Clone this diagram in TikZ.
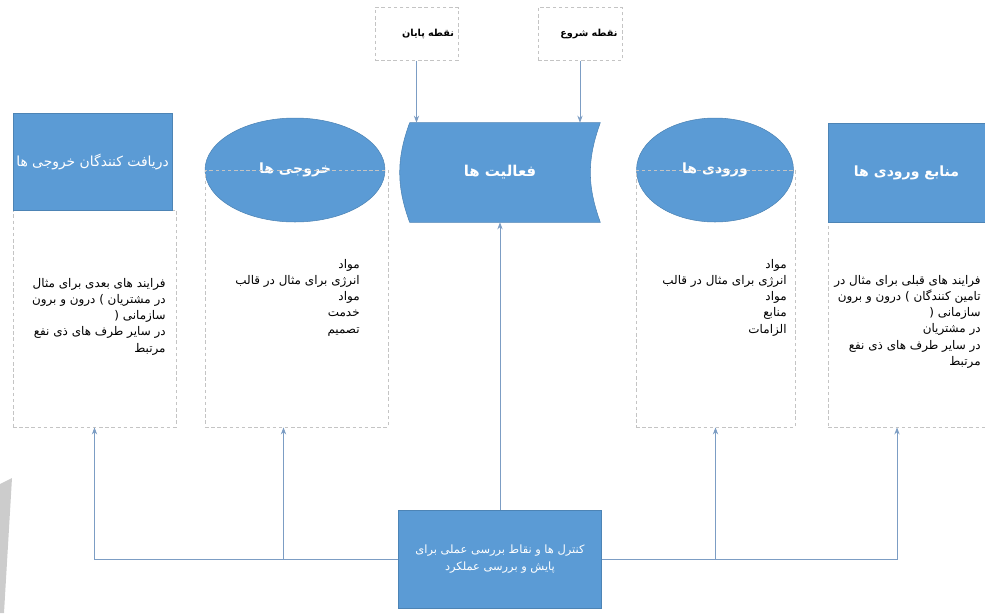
\documentclass[tikz,border=0pt]{standalone}
\usepackage{fontspec}
\usepackage{tikz}
\usetikzlibrary{shapes.geometric, arrows.meta}
\newfontfamily\farsi[Script=Arabic]{DejaVu Sans}
\TeXXeTstate=1
\newcommand{\rl}[1]{\beginR #1\endR}
\definecolor{boxblue}{HTML}{5B9BD5}
\definecolor{linkblue}{HTML}{7C9DC4}
\definecolor{dashgray}{HTML}{C4C4C4}
\tikzset{
  bluebox/.style={fill=boxblue, draw=boxblue!85!black, line width=0.3pt,
    text=white, font=\farsi\bfseries\fontsize{8}{10}\selectfont, inner sep=0pt},
  panel/.style={draw=dashgray, dash pattern=on 2pt off 1.5pt, line width=0.5pt,
    inner sep=0pt},
  bodytext/.style={font=\farsi\fontsize{6.8}{9.2}\selectfont, align=right,
    anchor=north east, inner sep=0pt},
  link/.style={draw=linkblue, line width=0.5pt, -{Stealth[length=4pt, width=3pt]}}
}

\begin{document}
\begin{tikzpicture}[x=0.02cm, y=-0.02cm]
    \useasboundingbox (0, 0) rectangle (985, 613);

    % page shadow
    \fill [gray!40] (0, 484) -- (12, 478) -- (4, 613) -- (0, 613) -- cycle;

    % start and end points
    \node[panel, minimum width=1.66cm, minimum height=1.06cm, align=right,
      text width=1.5cm, font=\farsi\bfseries\fontsize{5.5}{7}\selectfont]
      (endpt) at (416.5, 34){\rl{نقطه پایان}};
    \node[panel, minimum width=1.68cm, minimum height=1.06cm, align=right,
      text width=1.5cm, font=\farsi\bfseries\fontsize{5.5}{7}\selectfont]
      (startpt) at (580, 34){\rl{نقطه شروع}};

    % receivers of outputs
    \node[panel, minimum width=3.26cm, minimum height=4.34cm](rcvp) at (94.5, 318.5){};
    \node[bluebox, minimum width=3.18cm, minimum height=1.94cm,
      font=\farsi\fontsize{7.9}{9}\selectfont](rcv) at (92.5, 161.5)
      {\rl{دریافت کنندگان خروجی ها}};
    \node[bodytext](rcvt) at (166, 278){\rl{فرایند های بعدی برای مثال}\\
      \rl{در مشتریان ) درون و برون}\\ \rl{سازمانی (}\\
      \rl{در سایر طرف های ذی نفع}\\ \rl{مرتبط}};

    % outputs
    \node[bluebox, ellipse, minimum width=3.6cm, minimum height=2.08cm](outs)
      at (295, 170){\rl{خروجی ها}};
    \node[panel, minimum width=3.66cm, minimum height=5.14cm](outp) at (296.5, 298.5){};
    \node[bodytext](outt) at (360, 259){\rl{مواد}\\
      \rl{انرژی برای مثال در قالب}\\ \rl{مواد}\\ \rl{خدمت}\\ \rl{تصمیم}};

    % activities
    \node[minimum width=4cm, minimum height=1.98cm, inner sep=0pt](act)
      at (500, 172.5){};
    \draw [bluebox] ([xshift=0.2cm]act.north west) -- (act.north east)
      to[bend right=20] (act.south east) -- ([xshift=0.2cm]act.south west)
      to[bend left=20] ([xshift=0.2cm]act.north west);
    \node[text=white, font=\farsi\bfseries\fontsize{8.5}{10}\selectfont]
      (actt) at (act.center){\rl{فعالیت ها}};

    % inputs
    \node[bluebox, ellipse, minimum width=3.14cm, minimum height=2.08cm](ins)
      at (715, 170){\rl{ورودی ها}};
    \node[panel, minimum width=3.18cm, minimum height=5.14cm](inp) at (715.5, 298.5){};
    \node[bodytext](int) at (787, 259){\rl{مواد}\\
      \rl{انرژی برای مثال در قالب}\\ \rl{مواد}\\ \rl{منابع}\\ \rl{الزامات}};

    % sources of inputs
    \node[panel, minimum width=3.14cm, minimum height=4.1cm](srcp) at (906.5, 324.5){};
    \node[bluebox, minimum width=3.14cm, minimum height=1.98cm](src) at (906.5, 172.5)
      {\rl{منابع ورودی ها}};
    \node[bodytext](srct) at (981, 275){\rl{فرایند های قبلی برای مثال در}\\
      \rl{تامین کنندگان ) درون و برون}\\ \rl{سازمانی (}\\ \rl{در مشتریان}\\
      \rl{در سایر طرف های ذی نفع}\\ \rl{مرتبط}};

    % controls
    \node[bluebox, minimum width=4.06cm, minimum height=1.96cm, align=center,
      font=\farsi\fontsize{6.5}{9.5}\selectfont](ctl) at (500, 559)
      {\rl{کنترل ها و نقاط بررسی عملی برای}\\ \rl{پایش و بررسی عملکرد}};

    % connectors
    \draw [link] (endpt.south) -- (endpt.south |- act.north);
    \draw [link] (startpt.south) -- (startpt.south |- act.north);
    \draw [link] (ctl.north) -- (act.south);
    \draw [link] (ctl.west) -| (rcvp.south);
    \draw [link] (ctl.west) -| ([xshift=-0.26cm]outp.south);
    \draw [link] (ctl.east) -| (inp.south);
    \draw [link] (ctl.east) -| ([xshift=-0.19cm]srcp.south);
\end{tikzpicture}
\end{document}
